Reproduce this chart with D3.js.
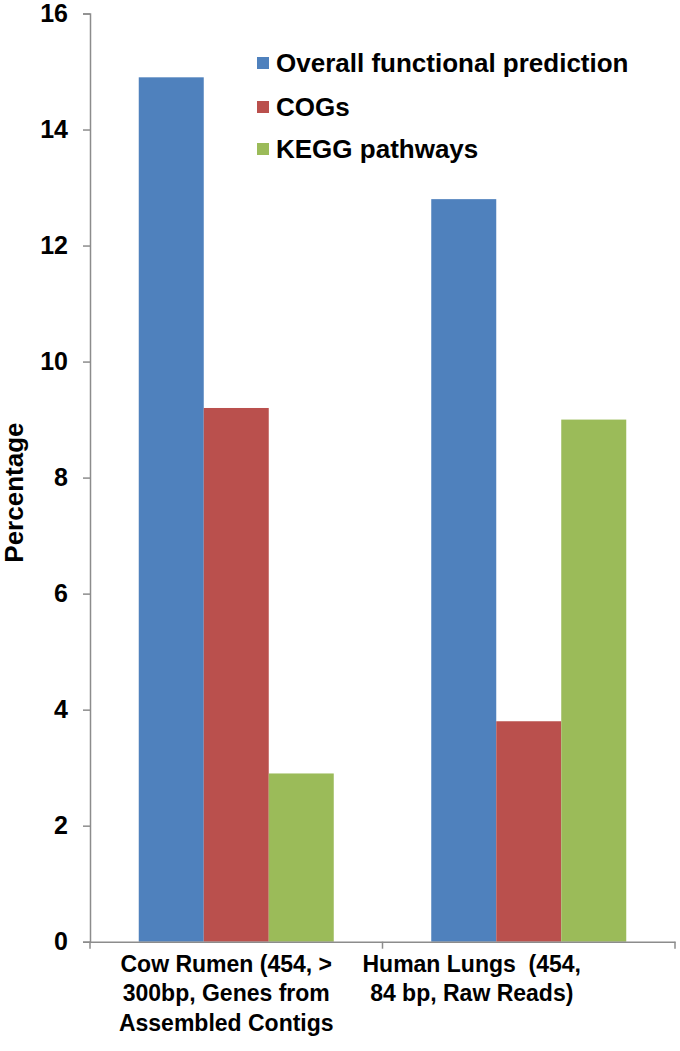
<!DOCTYPE html>
<html>
<head>
<meta charset="utf-8">
<script src="https://cdn.jsdelivr.net/npm/d3@7"></script>
<style>
  body { margin: 0; background: #fff; }
  svg text { font-family: "Liberation Sans", Arial, sans-serif; font-weight: bold; fill: #000; white-space: pre; }
</style>
</head>
<body>
<svg id="chart" width="680" height="1051"></svg>
<script>
// data
const categories = ["Cow Rumen", "Human Lungs"];
const categoryLabels = [
  ["Cow Rumen (454, >", "300bp, Genes from", "Assembled Contigs"],
  ["Human Lungs  (454,", "84 bp, Raw Reads)"]
];
const seriesNames = ["Overall functional prediction", "COGs", "KEGG pathways"];
const overall = [14.9, 12.8];
const cogs = [9.2, 3.8];
const kegg = [2.9, 9.0];
const yTicks = [0, 2, 4, 6, 8, 10, 12, 14, 16];

const colors = ["#4F81BD", "#BA504D", "#9BBB59"];
const seriesValues = [overall, cogs, kegg];

const margin = { top: 13.5, right: 5, bottom: 109, left: 90 };
const width = 680, height = 1051;
const svg = d3.select("#chart");

const x0 = d3.scaleBand()
  .domain(categories)
  .range([margin.left, 675])
  .paddingInner(1 / 3)
  .paddingOuter(1 / 6);

const x1 = d3.scaleBand()
  .domain(seriesNames)
  .range([0, x0.bandwidth()]);

const y = d3.scaleLinear()
  .domain([0, 16])
  .range([height - margin.bottom - 0.3, margin.top]);

// bars
const rows = categories.map((c, i) => ({
  cat: c,
  vals: seriesNames.map((s, j) => ({ s, v: seriesValues[j][i], color: colors[j] }))
}));

svg.append("g").selectAll("g").data(rows).enter().append("g")
  .attr("transform", d => `translate(${x0(d.cat)},0)`)
  .selectAll("rect").data(d => d.vals).enter().append("rect")
  .attr("x", d => x1(d.s))
  .attr("y", d => y(d.v))
  .attr("width", x1.bandwidth())
  .attr("height", d => y(0) - y(d.v))
  .attr("fill", d => d.color);

// y axis
const yAxis = svg.append("g")
  .attr("transform", `translate(${margin.left},0)`)
  .call(d3.axisLeft(y).tickValues(yTicks).tickSize(7).tickPadding(15).tickFormat(d3.format("d")));
yAxis.select(".domain").attr("stroke", "#8c8c8c").attr("stroke-width", 1.5);
yAxis.selectAll(".tick line").attr("stroke", "#8c8c8c").attr("stroke-width", 1.5);
yAxis.selectAll(".tick text").style("font-size", "25px").style("font-family", "'Liberation Sans', Arial, sans-serif").style("font-weight", "bold").attr("fill", "#000");

// x axis line with category separators
const xAxis = svg.append("g")
  .attr("transform", `translate(0,${y(0)})`)
  .call(d3.axisBottom(x0).tickSize(0).tickFormat(""));
xAxis.select(".domain").attr("stroke", "#8c8c8c").attr("stroke-width", 1.5);
const step = x0.step();
const boundaries = [margin.left, x0(categories[1]) - x0.paddingInner() * step / 2, 675];
xAxis.selectAll(".sep").data(boundaries).enter().append("line")
  .attr("x1", d => d).attr("x2", d => d)
  .attr("y1", 0).attr("y2", 7)
  .attr("stroke", "#8c8c8c").attr("stroke-width", 1.5);

// category labels
const labelShift = [-10, -57];
categories.forEach((c, i) => {
  const t = svg.append("text")
    .attr("text-anchor", "middle")
    .style("font-size", "23px");
  categoryLabels[i].forEach((line, k) => {
    t.append("tspan")
      .attr("x", x0(c) + x0.bandwidth() / 2 + labelShift[i])
      .attr("y", y(0) + 30 + k * 29.5)
      .text(line);
  });
});

// y axis title
svg.append("text")
  .attr("transform", `translate(23,${(y(0) + y(16)) / 2 + 15}) rotate(-90)`)
  .attr("text-anchor", "middle")
  .style("font-size", "26px")
  .text("Percentage");

// legend
const legend = svg.append("g").attr("transform", "translate(257,0)");
const legendY = [63, 107, 149];
seriesNames.forEach((s, i) => {
  legend.append("rect")
    .attr("x", 0).attr("y", legendY[i] - 6)
    .attr("width", 12).attr("height", 12)
    .attr("fill", colors[i]);
  legend.append("text")
    .attr("x", 19).attr("y", legendY[i] + 9)
    .style("font-size", "26px")
    .text(s);
});
</script>
</body>
</html>
